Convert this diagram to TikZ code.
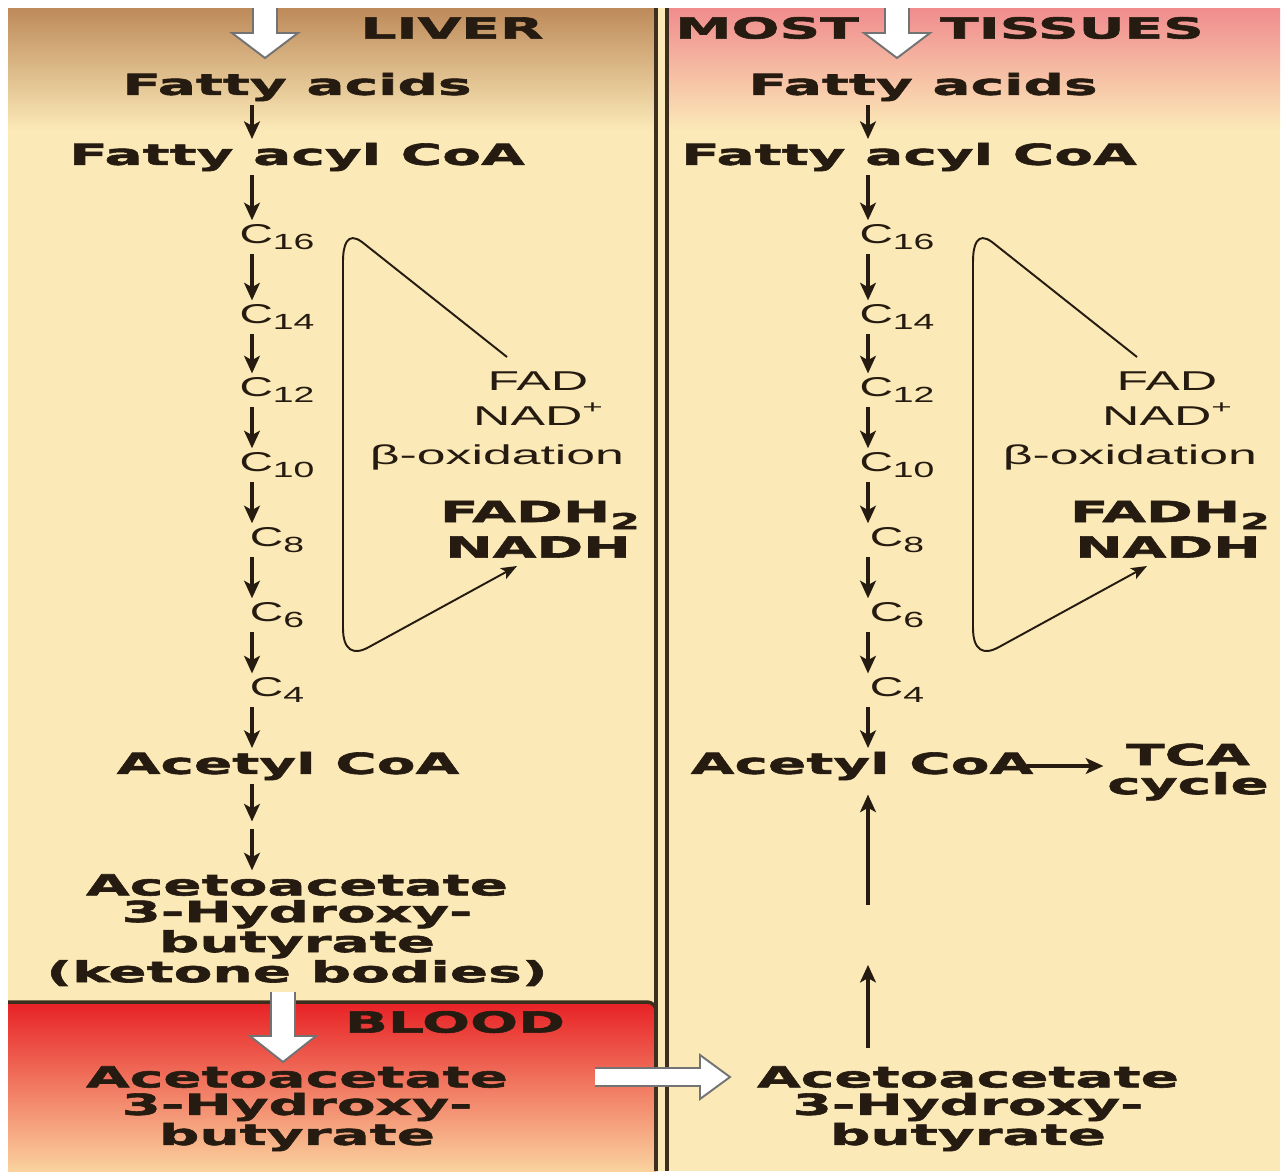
\documentclass[tikz,border=0pt]{standalone}
\usepackage{fontspec}
\usetikzlibrary{arrows.meta,positioning}

\newfontfamily\heavyfont{DejaVu Sans Bold}[FakeStretch=1.95,FakeBold=2]
\newfontfamily\lightfont{Liberation Sans}[FakeStretch=1.9]
\newfontfamily\chainfont{Liberation Sans}[FakeStretch=1.7]

\definecolor{cream}{RGB}{251,233,183}
\definecolor{livertop}{RGB}{190,138,90}
\definecolor{tissuetop}{RGB}{240,140,142}
\definecolor{bloodtop}{RGB}{232,34,38}
\definecolor{bloodmid}{RGB}{244,128,92}
\definecolor{bloodbot}{RGB}{250,210,158}
\definecolor{ink}{RGB}{38,27,17}
\definecolor{rule}{RGB}{62,46,30}

\newcommand\csub[1]{\raisebox{-0.45ex}{\fontsize{12.5}{12.5}\selectfont#1}}
\newcommand\csup[1]{\raisebox{0.85ex}{\fontsize{10.5}{10.5}\selectfont#1}}
% big white arrow pointing down: x, top, head start, tip
\newcommand\fatdown[4]{%
  \draw[fatarrow] (#1-12,#2) -- (#1-12,#3) -- (#1-33,#3) -- (#1,#4)
    -- (#1+33,#3) -- (#1+12,#3) -- (#1+12,#2);}

\tikzset{
  heavy/.style={font=\heavyfont\fontsize{16.5}{14.8}\selectfont, text=ink, inner sep=2pt, align=center},
  light/.style={font=\lightfont\fontsize{15.5}{15.5}\selectfont, text=ink, inner sep=2pt},
  chain/.style={font=\chainfont\fontsize{15.5}{15.5}\selectfont, text=ink, inner sep=2pt},
  steparrow/.style={draw=ink, line width=1.8pt, -{Stealth[length=10pt,width=9pt,inset=2.5pt]}},
  looparrow/.style={draw=ink, line width=1.1pt, -{Stealth[length=9pt,width=7pt,inset=2pt]}},
  fatarrow/.style={fill=white, draw=black!55, line width=1.1pt, line join=miter},
}

\begin{document}
\begin{tikzpicture}[x=0.02cm, y=-0.02cm]
\useasboundingbox (0,0) rectangle (1287,1171);
\fill[white] (0,0) rectangle (1287,1171);

% panels
\fill[cream] (8,8) rectangle (1280,1171);
\shade[top color=livertop, bottom color=cream] (8,8) rectangle (656,130);
\shade[top color=tissuetop, bottom color=cream] (667,8) rectangle (1280,130);
\shade[top color=bloodtop, middle color=bloodmid, bottom color=bloodbot] (8,1003) rectangle (656,1171);
\draw[rule, line width=2pt, rounded corners=5] (8,1002) -- (656,1002) -- (656,1171);
\draw[rule, line width=2pt] (656,8) -- (656,1171);
\draw[rule, line width=2pt] (667,8) -- (667,1171);

% headings
\node[heavy] (liver) at (452,28) {LIVER};
\node[heavy] (most) at (767,28) {MOST};
\node[heavy] (tissues) at (1072,28) {TISSUES};
\node[heavy] (blood) at (455,1022) {BLOOD};
\fatdown{265}{8}{33}{58}
\fatdown{897}{8}{33}{58}
\fatdown{283}{992}{1036}{1062}

% liver column
\coordinate (lspine) at (252,0);
\node[heavy] (lfa) at (297,87) {Fatty acids};
\node[heavy] (lacyl) at (297,157) {Fatty acyl CoA};
\foreach \n/\y in {16/237,14/317,12/390,10/465,8/540,6/615,4/690}
  \node[chain] (lc\n) at (277,\y) {C\csub{\n}};
\node[heavy] (lacetyl) at (288,766) {Acetyl CoA};
\coordinate (lmid) at (252,825);
\node[heavy] (lacac) at (297,885) {Acetoacetate};
\node[heavy] (lhb) at (297,943) {3-Hydroxy-\\butyrate\\(ketone bodies)};
\node[heavy] (bacac) at (297,1077) {Acetoacetate};
\node[heavy] (bhb) at (297,1122) {3-Hydroxy-\\butyrate};

\draw[steparrow] (lfa.south -| lspine) -- (lacyl.north -| lspine);
\draw[steparrow] (lacyl.south -| lspine) -- (lc16.north -| lspine);
\foreach \a/\b in {16/14,14/12,12/10,10/8,8/6,6/4}
  \draw[steparrow] (lc\a.south -| lspine) -- (lc\b.north -| lspine);
\draw[steparrow] (lc4.south -| lspine) -- (lacetyl.north -| lspine);
\draw[steparrow, shorten >=2pt] (lacetyl.south -| lspine) -- (lmid);
\draw[steparrow, shorten <=2pt] (lmid) -- (lacac.north -| lspine);

\node[light] (lfad) at (538,381) {FAD};
\node[light] (lnad) at (538,414) {NAD\csup{+}};
\node[light] (lbeta) at (497,457) {β-oxidation};
\node[heavy] (lfadh) at (540,515) {FADH\csub{2}};
\node[heavy] (lnadh) at (538,547) {NADH};

% tissue column
\coordinate (rspine) at (868,0);
\node[heavy] (rfa) at (923,87) {Fatty acids};
\node[heavy] (racyl) at (909,157) {Fatty acyl CoA};
\foreach \n/\y in {16/237,14/317,12/390,10/465,8/540,6/615,4/690}
  \node[chain] (rc\n) at (897,\y) {C\csub{\n}};
\node[heavy] (racetyl) at (862,766) {Acetyl CoA};
\node[heavy, font=\heavyfont\fontsize{16.5}{16.5}\selectfont] (rtca) at (1188,772) {TCA\\cycle};
\coordinate (rmid) at (868,935);
\node[heavy] (racac) at (968,1077) {Acetoacetate};
\node[heavy] (rhb) at (968,1122) {3-Hydroxy-\\butyrate};

\draw[steparrow] (rfa.south -| rspine) -- (racyl.north -| rspine);
\draw[steparrow] (racyl.south -| rspine) -- (rc16.north -| rspine);
\foreach \a/\b in {16/14,14/12,12/10,10/8,8/6,6/4}
  \draw[steparrow] (rc\a.south -| rspine) -- (rc\b.north -| rspine);
\draw[steparrow] (rc4.south -| rspine) -- (racetyl.north -| rspine);
\draw[steparrow, shorten <=-6pt] (racetyl.east) -- (rtca.west |- racetyl.east);
\draw[steparrow, shorten <=8pt, shorten >=17pt] (racac.north -| rspine) -- (rmid);
\draw[steparrow, shorten <=17pt, shorten >=6pt] (rmid) -- (racetyl.south -| rspine);

\node[light] (rfad) at (1167,381) {FAD};
\node[light] (rnad) at (1167,414) {NAD\csup{+}};
\node[light] (rbeta) at (1130,457) {β-oxidation};
\node[heavy] (rfadh) at (1170,515) {FADH\csub{2}};
\node[heavy] (rnadh) at (1168,547) {NADH};

% beta-oxidation loops
\foreach \s in {0,630}
  \draw[looparrow] (507+\s,357) -- (362+\s,242)
    .. controls (347+\s,231) and (343+\s,245) .. (343+\s,262) -- (343+\s,628)
    .. controls (343+\s,650) and (353+\s,656) .. (369+\s,647) -- (517+\s,566);

% blood to tissues
\draw[fatarrow] (595,1068) -- (700,1068) -- (700,1055) -- (730,1077)
  -- (700,1099) -- (700,1086) -- (595,1086);
\end{tikzpicture}
\end{document}
